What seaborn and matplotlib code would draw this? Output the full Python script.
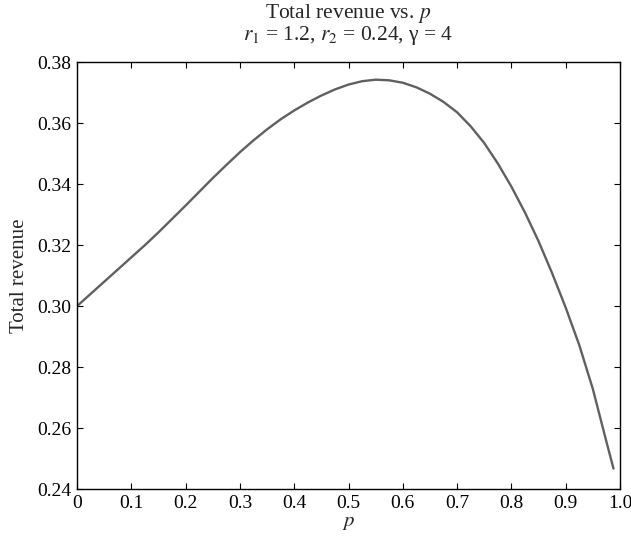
import numpy as np
import pandas as pd
import seaborn as sns
import matplotlib
matplotlib.use("Agg")
import matplotlib.pyplot as plt

# values
p_vals = [0.0, 0.025, 0.05, 0.075, 0.10, 0.125, 0.15, 0.175, 0.20, 0.225, 0.25, 0.275,
          0.30, 0.325, 0.35, 0.375, 0.40, 0.425, 0.45, 0.475, 0.50, 0.525, 0.55, 0.575,
          0.60, 0.625, 0.65, 0.675, 0.70, 0.725, 0.75, 0.775, 0.80, 0.825, 0.85, 0.875,
          0.90, 0.925, 0.95, 0.975, 0.988]
revenue = [0.3000, 0.3040, 0.3080, 0.3120, 0.3160, 0.3200, 0.3242, 0.3286, 0.3330, 0.3375,
           0.3420, 0.3463, 0.3505, 0.3544, 0.3580, 0.3613, 0.3642, 0.3668, 0.3691, 0.3711,
           0.3727, 0.3738, 0.3743, 0.3741, 0.3733, 0.3718, 0.3697, 0.3670, 0.3636, 0.3590,
           0.3535, 0.3468, 0.3392, 0.3307, 0.3213, 0.3108, 0.2995, 0.2872, 0.2728, 0.2555,
           0.2467]
x_ticks = [0, 0.1, 0.2, 0.3, 0.4, 0.5, 0.6, 0.7, 0.8, 0.9, 1.0]
x_labels = ["0", "0.1", "0.2", "0.3", "0.4", "0.5", "0.6", "0.7", "0.8", "0.9", "1.0"]
y_ticks = [0.24, 0.26, 0.28, 0.30, 0.32, 0.34, 0.36, 0.38]

df = pd.DataFrame({"p": p_vals, "revenue": revenue})

sns.set_theme(style="ticks")
plt.rcParams["font.family"] = ["Liberation Serif", "DejaVu Serif"]
plt.rcParams["mathtext.fontset"] = "stix"
plt.rcParams["xtick.direction"] = "in"
plt.rcParams["ytick.direction"] = "in"

fig = plt.figure(figsize=(6.31, 5.40), dpi=100)
ax = fig.add_axes([0.122, 0.0944, 0.8606, 0.7902])

sns.lineplot(data=df, x="p", y="revenue", color="#606060", linewidth=1.7, ax=ax)

ax.set_xlim(0, 1.0)
ax.set_ylim(0.24, 0.38)
ax.set_xticks(x_ticks)
ax.set_xticklabels(x_labels)
ax.set_yticks(y_ticks)
ax.set_yticklabels([f"{t:.2f}" for t in y_ticks])
ax.tick_params(axis="both", which="both", top=True, right=True, length=4, width=0.8,
               labelsize=14, colors="black", pad=4)
for s in ax.spines.values():
    s.set_linewidth(1.0)
    s.set_color("black")

ax.set_xlabel("$p$", fontsize=15, labelpad=1)
ax.set_ylabel("Total revenue", fontsize=15, labelpad=6)
ax.set_title("Total revenue vs. $p$\n$r_1$ = 1.2, $r_2$ = 0.24, γ = 4", fontsize=15.5, pad=16,
             linespacing=0.95)

fig.savefig("out.png", dpi=100)
